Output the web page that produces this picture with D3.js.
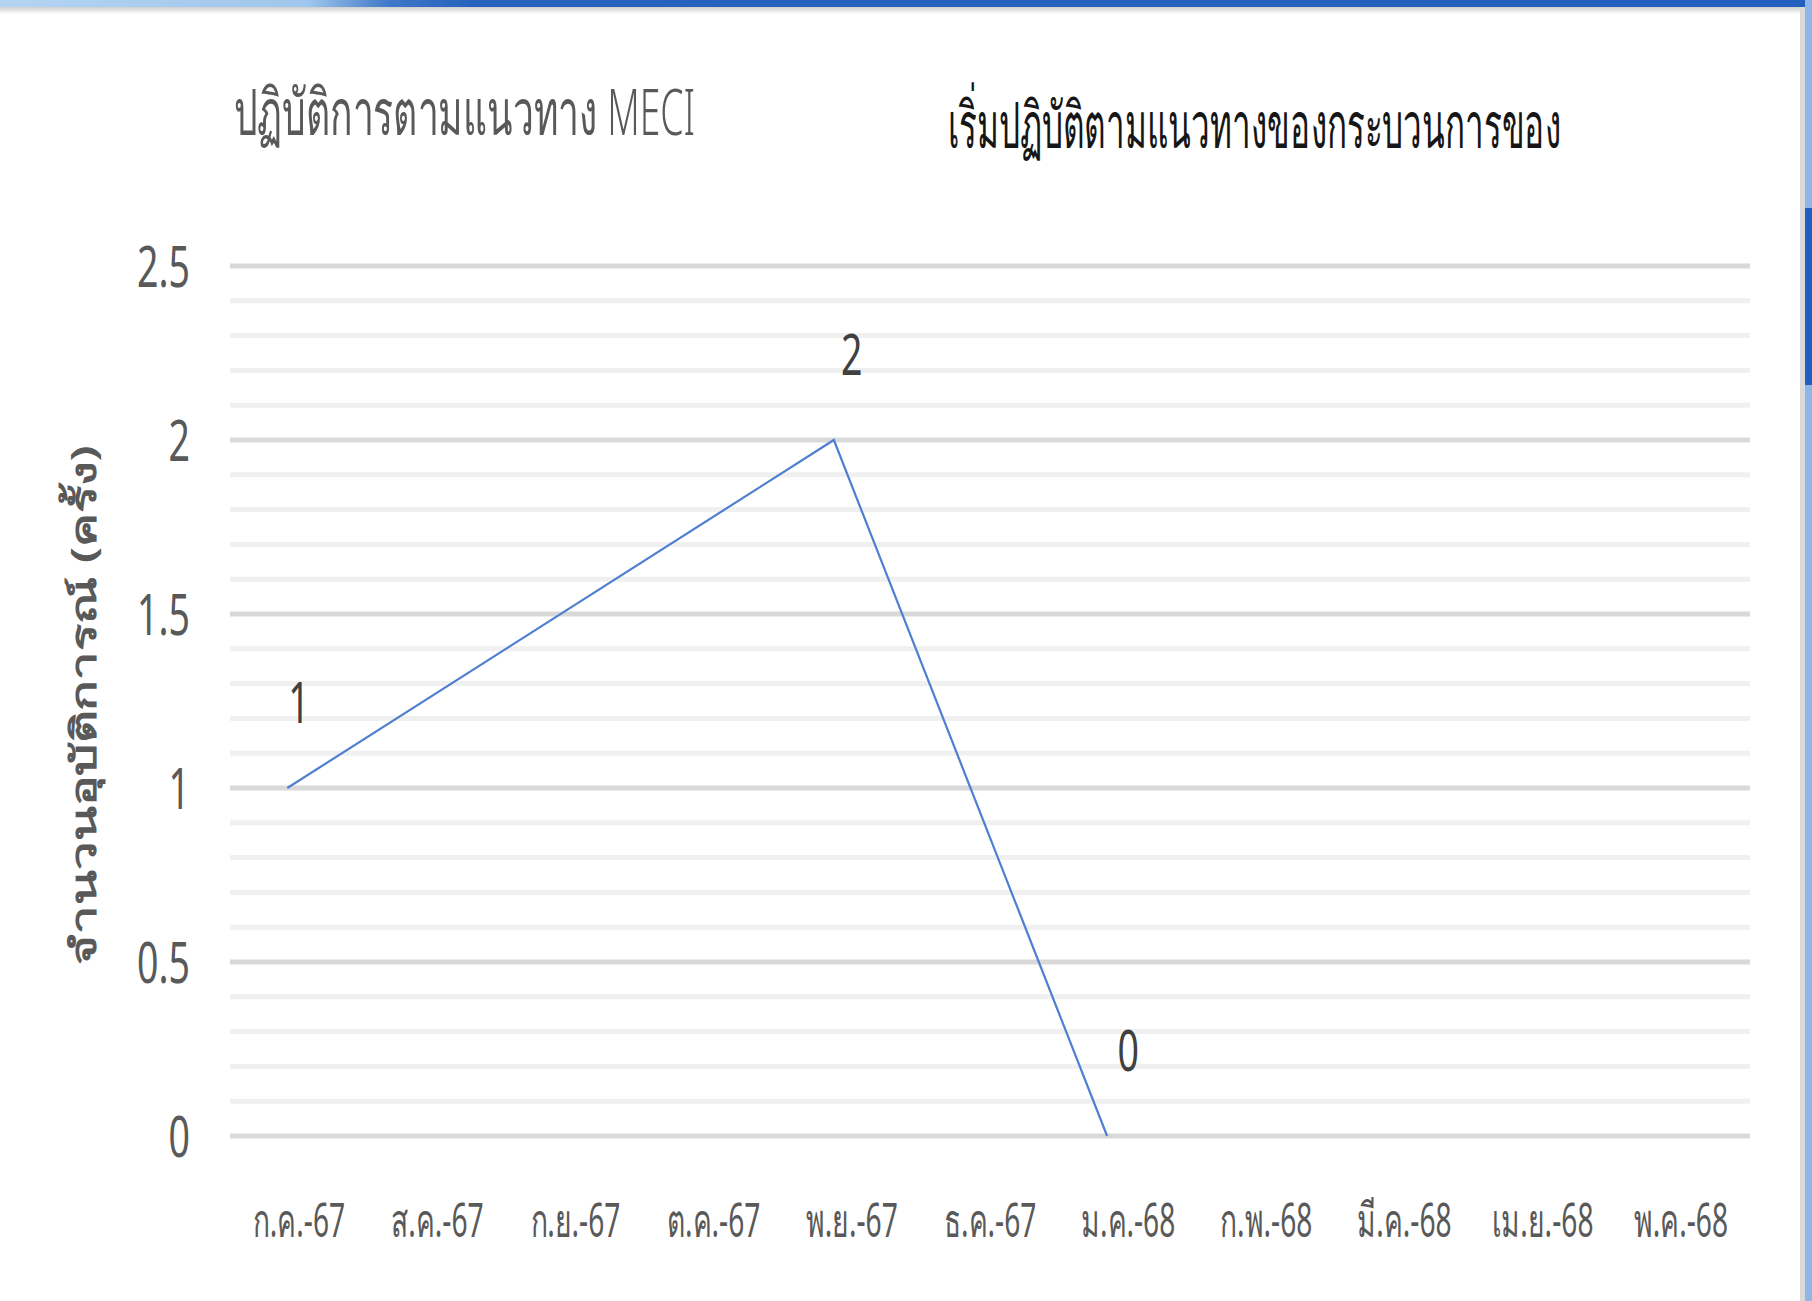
<!DOCTYPE html>
<html><head><meta charset="utf-8">
<script src="https://cdn.jsdelivr.net/npm/d3@7"></script>
<style>
html,body{margin:0;padding:0;background:#fff;overflow:hidden}
svg{display:block}
text{font-family:"Noto Sans","Open Sans",sans-serif}
</style></head><body>
<svg id="chart" width="1812" height="1301"></svg>
<script>
// Monthly incident counts
const months = ["ก.ค.-67","ส.ค.-67","ก.ย.-67","ต.ค.-67","พ.ย.-67","ธ.ค.-67","ม.ค.-68","ก.พ.-68","มี.ค.-68","เม.ย.-68","พ.ค.-68"];
const incidents = [1, null, null, null, 2, null, 0, null, null, null, null];
const yTicks = [0, 0.5, 1, 1.5, 2, 2.5];
const yMinorTicks = [0.1,0.2,0.3,0.4,0.6,0.7,0.8,0.9,1.1,1.2,1.3,1.4,1.6,1.7,1.8,1.9,2.1,2.2,2.3,2.4];
const chartTitle = "ปฏิบัติการตามแนวทาง MECI";
const subTitle = "เริ่มปฏิบัติตามแนวทางของกระบวนการของ";
const yAxisTitle = "จำนวนอุบัติการณ์ (ครั้ง)";

const W = 1812, H = 1301;
const plot = {left: 230, right: 1750, top: 266, bottom: 1136};
const svg = d3.select("#chart");

// narrow, tall lettering: each text is squeezed horizontally around its anchor
function squeeze(sel, k) {
  sel.each(function () {
    const t = d3.select(this);
    const px = +t.attr("x") || 0, py = +t.attr("y") || 0;
    t.attr("x", 0).attr("y", 0)
     .attr("transform", `translate(${px},${py}) scale(${k},1)`);
  });
}
function fitTo(sel, len) {
  sel.each(function () {
    const k = len / this.getComputedTextLength();
    squeeze(d3.select(this), k);
  });
}

// window frame: top bar, shadow and right-hand strip
const defs = svg.append("defs");
const gTop = defs.append("linearGradient").attr("id", "topbar");
[[0, "#b4d4f2"], [0.17, "#9fc6ec"], [0.215, "#3f78c8"], [0.26, "#2762bd"], [1, "#2460bd"]]
  .forEach(([o, c]) => gTop.append("stop").attr("offset", o).attr("stop-color", c));
const gSh = defs.append("linearGradient").attr("id", "shadow").attr("x1", 0).attr("x2", 0).attr("y1", 0).attr("y2", 1);
[[0, "#cfcfcf"], [1, "#ffffff"]].forEach(([o, c]) => gSh.append("stop").attr("offset", o).attr("stop-color", c));

svg.append("rect").attr("width", W).attr("height", H).attr("fill", "#fff");
svg.append("rect").attr("x", 0).attr("y", 0).attr("width", W).attr("height", 7).attr("fill", "url(#topbar)");
svg.append("rect").attr("x", 0).attr("y", 7).attr("width", 1805).attr("height", 7).attr("fill", "url(#shadow)");
svg.append("rect").attr("x", 1800).attr("y", 7).attr("width", 5).attr("height", H).attr("fill", "#d9d9d9");
svg.append("rect").attr("x", 1805).attr("y", 0).attr("width", 7).attr("height", H).attr("fill", "#8fb6e8");
svg.append("rect").attr("x", 1805).attr("y", 208).attr("width", 7).attr("height", 177).attr("fill", "#1f5fbf");

// scales
const x = d3.scaleBand().domain(months).range([plot.left, plot.right]);
const xLine = d3.scaleBand().domain(months).range([219, 1722]);
const y = d3.scaleLinear().domain([0, 2.5]).range([plot.bottom, plot.top]);

// gridlines
const grid = svg.append("g");
grid.selectAll("line.minor").data(yMinorTicks).join("line")
  .attr("class", "minor")
  .attr("x1", plot.left).attr("x2", plot.right)
  .attr("y1", d => y(d)).attr("y2", d => y(d))
  .attr("stroke", "#f0f0f0").attr("stroke-width", 5);
grid.selectAll("line.major").data(yTicks).join("line")
  .attr("class", "major")
  .attr("x1", plot.left).attr("x2", plot.right)
  .attr("y1", d => y(d)).attr("y2", d => y(d))
  .attr("stroke", "#d9d9d9").attr("stroke-width", 5);

// y axis labels
const yAxis = svg.append("g").attr("transform", "translate(190,0)")
  .call(d3.axisLeft(y).tickValues(yTicks).tickSize(0).tickPadding(0).tickFormat(d3.format("")));
yAxis.select(".domain").remove();
yAxis.selectAll("text")
  .attr("fill", "#595959").attr("font-size", 56).attr("dy", "0.36em")
  .style("font-family", '"Noto Sans","Open Sans",sans-serif')
  .call(squeeze, 0.67);

// x axis labels
const xAxis = svg.append("g").attr("transform", "translate(0,1237)")
  .call(d3.axisBottom(x).tickSize(0).tickPadding(0));
xAxis.select(".domain").remove();
xAxis.selectAll("text")
  .attr("fill", "#595959").attr("font-size", 47).attr("dy", 0)
  .style("font-family", '"Noto Sans","Open Sans",sans-serif')
  .call(squeeze, 0.6);

// series line through the months that have a value
const pts = months.map((m, i) => ({m, v: incidents[i]})).filter(d => d.v !== null);
svg.append("path")
  .datum(pts)
  .attr("fill", "none").attr("stroke", "#4f7fd0").attr("stroke-width", 2.2)
  .attr("d", d3.line().x(d => xLine(d.m) + xLine.bandwidth() / 2).y(d => y(d.v)));

// data labels
svg.append("g").selectAll("text").data(pts).join("text")
  .attr("x", d => x(d.m) + x.bandwidth() / 2)
  .attr("y", d => y(d.v) - 65)
  .attr("text-anchor", "middle")
  .attr("fill", "#404040").attr("font-size", 56)
  .text(d => d.v)
  .call(squeeze, 0.67);

// headings
svg.append("text").attr("x", 234).attr("y", 135)
  .attr("fill", "#595959").attr("font-size", 64).attr("font-weight", 300)
  .text(chartTitle).call(fitTo, 462);
svg.append("text").attr("x", 948).attr("y", 148)
  .attr("fill", "#161616").attr("font-size", 64)
  .text(subTitle).call(fitTo, 612);

// y axis title, rotated to read upwards
const yTitle = svg.append("text")
  .attr("text-anchor", "middle")
  .attr("fill", "#595959").attr("font-size", 35).attr("font-weight", 600)
  .text(yAxisTitle);
const yTitleScale = 521 / yTitle.node().getComputedTextLength();
yTitle.attr("transform", `translate(96,705) rotate(-90) scale(${yTitleScale},1)`);
</script>
</body></html>
